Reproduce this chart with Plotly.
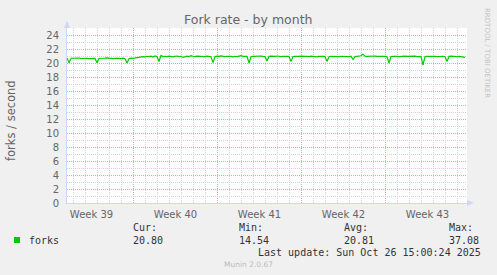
import datetime as dt
import plotly.graph_objects as go

# ---- data ----
start_time = "2025-09-23 11:00"
end_time = "2025-10-26 19:00"
step_hours = 4
forks = [
    20.72, 20.02, 20.68, 20.70, 20.66, 20.69, 20.71, 20.64, 20.67, 20.70,
    20.68, 20.62, 20.66, 20.71, 20.65, 20.05, 20.63, 20.68, 20.66, 20.70,
    20.74, 20.69, 20.58, 20.62, 20.66, 20.70, 20.67, 20.64, 20.69, 20.62,
    20.00, 20.62, 20.70, 20.66, 20.72, 20.68, 20.74, 20.80, 20.92, 20.88,
    20.96, 20.90, 20.98, 20.86, 21.02, 20.94, 20.22, 21.10, 20.92, 20.96,
    20.90, 20.98, 20.94, 20.88, 20.96, 21.00, 20.92, 20.96, 20.80, 20.94,
    20.98, 20.92, 21.04, 20.96, 20.90, 20.98, 20.94, 21.00, 20.96, 20.92,
    20.98, 20.94, 20.90, 20.05, 20.92, 20.98, 20.94, 21.02, 20.96, 20.92,
    20.96, 21.00, 20.94, 20.88, 20.96, 20.92, 20.98, 21.04, 20.94, 20.90,
    20.94, 20.00, 20.90, 20.96, 20.98, 20.92, 20.96, 21.00, 20.94, 20.92,
    20.30, 20.94, 20.98, 20.92, 20.96, 21.00, 20.94, 20.90, 20.96, 20.92,
    20.98, 20.94, 20.20, 20.92, 20.96, 20.90, 20.94, 20.98, 20.92, 20.96,
    20.94, 20.90, 20.98, 20.92, 20.96, 20.88, 20.94, 20.98, 20.92, 20.96,
    20.20, 20.90, 20.96, 20.92, 20.98, 20.94, 20.90, 20.96, 20.92, 20.98,
    20.94, 20.90, 20.96, 20.50, 20.92, 20.96, 20.98, 21.04, 21.26, 20.98,
    20.94, 20.98, 20.92, 20.96, 21.00, 20.94, 20.98, 20.92, 20.96, 20.94,
    20.90, 20.00, 20.92, 20.96, 20.98, 20.94, 20.90, 20.96, 20.92, 20.98,
    20.94, 20.96, 20.90, 20.94, 20.98, 20.92, 20.96, 20.94, 19.70, 20.92,
    20.96, 20.98, 20.90, 20.94, 20.96, 20.92, 20.98, 20.94, 20.96, 20.90,
    20.20, 20.94, 20.98, 20.92, 20.96, 20.90, 20.94, 20.88, 20.92, 20.80,
]
week_starts = ["2025-09-22", "2025-09-29", "2025-10-06", "2025-10-13", "2025-10-20", "2025-10-27"]
week_labels = ["Week 39", "Week 40", "Week 41", "Week 42", "Week 43"]
y_ticks = [0, 2, 4, 6, 8, 10, 12, 14, 16, 18, 20, 22, 24]
y_minor = [1, 3, 5, 7, 9, 11, 13, 15, 17, 19, 21, 23, 25]
stats_names = ["Cur:", "Min:", "Avg:", "Max:"]
stats_values = ["20.80", "14.54", "20.81", "37.08"]
series_name = "forks"
title = "Fork rate - by month"
y_title = "forks / second"
last_update = "Last update: Sun Oct 26 15:00:24 2025"
footer = "Munin 2.0.67"
side_text = "RRDTOOL / TOBI OETIKER"

# ---- derived ----
t0 = dt.datetime.strptime(start_time, "%Y-%m-%d %H:%M")
t1 = dt.datetime.strptime(end_time, "%Y-%m-%d %H:%M")
times = [t0 + dt.timedelta(hours=step_hours * i) for i in range(len(forks))]
wk = [dt.datetime.strptime(w, "%Y-%m-%d") for w in week_starts]
week_mid = [w + dt.timedelta(days=3, hours=12) for w in wk[:len(week_labels)]]
day_lines = [w + dt.timedelta(days=d) for w in wk for d in range(1, 7)]

W, H = 497, 275
L, R, T, B = 67, 30, 28, 72
PW, PH = W - L - R, H - T - B

def px(x):
    return (x - L) / PW

def py(y):
    return (H - B - y) / PH

FONT = "DejaVu Sans"
MONO = "DejaVu Sans Mono"
FC = "#666666"
MGRID = "#E8A0A0"
GRID = "#D2D2D2"
AXISC = "#CFD6F8"

fig = go.Figure()
fig.add_trace(go.Scatter(x=times, y=forks, mode="lines", line=dict(color="#00CC00", width=1.2),
                         showlegend=False, hoverinfo="skip"))

fig.update_layout(
    width=W, height=H, autosize=False,
    margin=dict(l=L, r=R, t=T, b=B, pad=0),
    paper_bgcolor="#F0F0F0", plot_bgcolor="#FFFFFF",
    font=dict(family=FONT, size=10, color=FC),
    xaxis=dict(
        type="date", range=[start_time, end_time],
        tickmode="array", tickvals=week_mid, ticktext=week_labels,
        ticks="outside", ticklen=2, tickcolor="rgba(0,0,0,0)",
        tickfont=dict(family=FONT, size=10, color=FC),
        showgrid=False,
        showline=True, linecolor=AXISC, linewidth=1, zeroline=False, fixedrange=True,
    ),
    yaxis=dict(
        range=[0, 25], tickmode="array", tickvals=y_ticks,
        showgrid=True, gridcolor=MGRID, griddash="1px,1px", gridwidth=1,
        minor=dict(tickmode="array", tickvals=y_minor, showgrid=True, gridcolor=GRID,
                   griddash="1px,1px", gridwidth=1, ticks=""),
        ticks="outside", ticklen=5, tickcolor="rgba(0,0,0,0)",
        tickfont=dict(family=FONT, size=10, color=FC),
        showline=True, linecolor=AXISC, linewidth=1, zeroline=False, fixedrange=True,
    ),
)

ann = []
ann.append(dict(text=title, x=px(248), y=py(19), xref="paper", yref="paper", showarrow=False,
                xanchor="center", yanchor="middle", font=dict(family=FONT, size=12.5, color=FC)))
ann.append(dict(text=y_title, x=px(11), y=py(120), xref="paper", yref="paper", showarrow=False,
                textangle=-90, xanchor="center", yanchor="middle",
                font=dict(family=FONT, size=11.5, color=FC)))
ann.append(dict(text=side_text, x=px(487), y=py(53), xref="paper", yref="paper", showarrow=False,
                textangle=90, xanchor="center", yanchor="middle",
                font=dict(family=FONT, size=7, color="#C4C4C4")))
ann.append(dict(text=series_name, x=px(26.5), y=py(240), xref="paper", yref="paper", showarrow=False,
                xanchor="left", yanchor="middle", font=dict(family=MONO, size=10, color="#333333")))
stat_x = [131, 237, 342, 447]
for sx, nm, val in zip(stat_x, stats_names, stats_values):
    ann.append(dict(text=nm, x=px(sx), y=py(227), xref="paper", yref="paper", showarrow=False,
                    xanchor="left", yanchor="middle", font=dict(family=MONO, size=10, color="#333333")))
    ann.append(dict(text=val, x=px(sx), y=py(240), xref="paper", yref="paper", showarrow=False,
                    xanchor="left", yanchor="middle", font=dict(family=MONO, size=10, color="#333333")))
ann.append(dict(text=last_update, x=px(483), y=py(252), xref="paper", yref="paper", showarrow=False,
                xanchor="right", yanchor="middle", font=dict(family=MONO, size=10, color="#333333")))
ann.append(dict(text=footer, x=px(248), y=py(264), xref="paper", yref="paper", showarrow=False,
                xanchor="center", yanchor="middle", font=dict(family=FONT, size=7.5, color="#BBBBBB")))
fig.update_layout(annotations=ann)

shapes = []
# daily minor and weekly major vertical grid lines
for d in day_lines:
    if t0 <= d <= t1:
        shapes.append(dict(type="line", xref="x", yref="paper", x0=d, x1=d, y0=0, y1=1,
                           layer="below", line=dict(color=GRID, width=1, dash="1px,1px")))
for w in wk:
    if t0 <= w <= t1:
        shapes.append(dict(type="line", xref="x", yref="paper", x0=w, x1=w, y0=0, y1=1,
                           layer="below", line=dict(color=MGRID, width=1, dash="1px,1px")))
shapes.append(dict(type="rect", xref="paper", yref="paper", x0=px(14), x1=px(20), y0=py(243), y1=py(237),
                   fillcolor="#00CC00", line=dict(width=0)))
shapes.append(dict(type="path", xref="paper", yref="paper",
                   path=f"M {px(64)} {py(28)} L {px(70)} {py(28)} L {px(67)} {py(21)} Z",
                   fillcolor=AXISC, line=dict(width=0)))
shapes.append(dict(type="path", xref="paper", yref="paper",
                   path=f"M {px(467)} {py(200)} L {px(467)} {py(206)} L {px(474)} {py(203)} Z",
                   fillcolor=AXISC, line=dict(width=0)))
fig.update_layout(shapes=shapes)

fig.write_html("out.html")
